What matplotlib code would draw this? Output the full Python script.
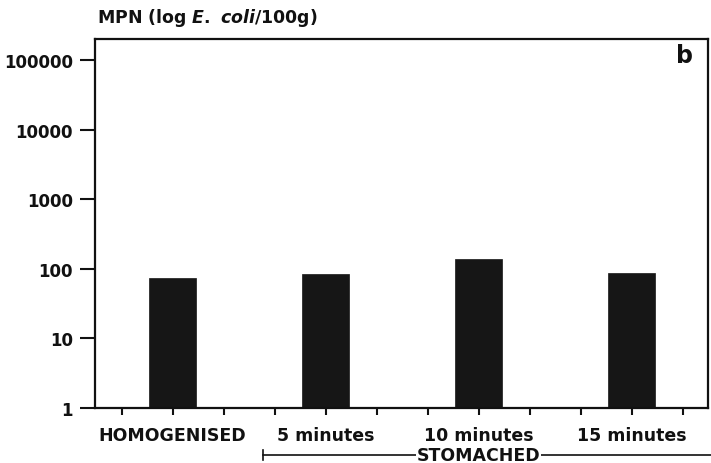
import matplotlib

matplotlib.use("Agg")
import matplotlib.pyplot as plt
from matplotlib.ticker import NullLocator
from matplotlib.transforms import blended_transform_factory

# MPN counts per treatment
CATEGORIES = ["HOMOGENISED", "5 minutes", "10 minutes", "15 minutes"]
MPN = [74, 85, 139, 87]
Y_TICKS = [1, 10, 100, 1000, 10000, 100000]
GROUP_LABEL = "STOMACHED"

INK = "#111111"
BAR = "#161616"
FONT = "DejaVu Sans"
SIZE = 12.5

plt.rcParams["font.family"] = FONT
plt.rcParams["mathtext.fontset"] = "custom"
plt.rcParams["mathtext.rm"] = "DejaVu Sans:bold"
plt.rcParams["mathtext.it"] = "DejaVu Sans:italic:bold"

W, H = 711, 464
fig = plt.figure(figsize=(W / 100, H / 100), dpi=100)
fig.set_facecolor("white")
ax = fig.add_axes([95 / W, 1 - 409 / H, (708 - 95) / W, (409 - 40) / H])

# three tick slots per category, bar on the middle one
n_slots = 3 * len(CATEGORIES)
xs = [1 + 3 * i for i in range(len(CATEGORIES))]
ax.bar(xs, MPN, width=0.94, color=BAR, edgecolor=BAR, linewidth=0.5)

ax.set_yscale("log")
ax.set_ylim(1, 2.0e5)
ax.set_xlim(-0.52, n_slots - 0.5)

ax.set_yticks(Y_TICKS, labels=[str(v) for v in Y_TICKS])
ax.yaxis.set_minor_locator(NullLocator())
xlabels = [""] * n_slots
for x, name in zip(xs, CATEGORIES):
    xlabels[x] = name
ax.set_xticks(range(n_slots), labels=xlabels)

for side in ax.spines.values():
    side.set_linewidth(1.6)
    side.set_color(INK)
ax.tick_params(axis="y", direction="out", length=11, width=1.5, pad=5,
               labelsize=12, colors=INK)
ax.tick_params(axis="x", direction="out", length=5, width=1.5, pad=8,
               labelsize=SIZE, colors=INK)
for lab in ax.get_xticklabels() + ax.get_yticklabels():
    lab.set_fontweight("bold")

fig.text(97 / W, 1 - 18 / H, r"MPN (log $\mathit{E.}$ $\mathit{coli}$/100g)",
         ha="left", va="center", fontsize=12.5, fontweight="bold", color=INK)
fig.text(693 / W, 1 - 56 / H, "b", ha="right", va="center",
         fontsize=17, fontweight="bold", color=INK)

# bracket under the stomached treatments
trans = blended_transform_factory(ax.transData, ax.transAxes)
yb = -(456 - 409) / 369
x0 = 2.78
ax.plot([x0, n_slots + 1], [yb, yb], transform=trans, clip_on=False,
        color=INK, linewidth=1.2)
ax.plot([x0, x0], [yb - 0.013, yb + 0.013], transform=trans, clip_on=False,
        color=INK, linewidth=1.2)
ax.text(7, yb, GROUP_LABEL, transform=trans, ha="center", va="center",
        fontsize=SIZE, fontweight="bold", color=INK,
        bbox=dict(facecolor="white", edgecolor="none", pad=0.5))

fig.savefig("out.png", dpi=100, facecolor=fig.get_facecolor())
